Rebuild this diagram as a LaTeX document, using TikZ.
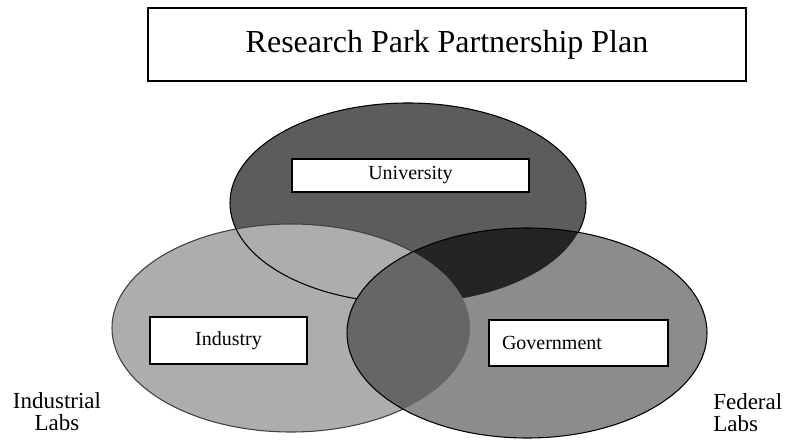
\documentclass[tikz,border=0pt]{standalone}
\usepackage{fontspec}
\setmainfont{Liberation Serif}
\usepackage{tikz}
\usetikzlibrary{positioning}
\definecolor{univgray}{gray}{0.36}
\definecolor{indgray}{gray}{0.68}
\definecolor{govgray}{gray}{0.55}
\definecolor{ugdark}{gray}{0.14}
\definecolor{iglens}{gray}{0.40}

\begin{document}
\begin{tikzpicture}[
    x=0.75pt, y=-0.75pt,
    tag/.style={draw, fill=white, line width=1.2pt, inner sep=0pt, font=\fontsize{15}{18}\selectfont},
    side/.style={inner sep=0pt, font=\fontsize{17.25}{16.5}\selectfont},
    rim/.style={draw=black, line width=0.8pt},
]
\useasboundingbox (0,0) rectangle (788,441);

% Title
\node[draw, line width=1.2pt, minimum width=448.5pt, minimum height=54.75pt, font=\fontsize{24}{28}\selectfont] (title) at (447,44.5) {Research Park Partnership Plan};

% University circle
\fill[univgray] (408,203) ellipse [x radius=133.5pt, y radius=75pt];

% Industry circle
\fill[indgray] (291,328) ellipse [x radius=134.25pt, y radius=78pt];
\draw[rim, draw=black!75] (291,328) ellipse [x radius=134.25pt, y radius=78pt];
\draw[rim] (408,203) ellipse [x radius=133.5pt, y radius=75pt];

% Government circle and its overlaps
\fill[govgray] (527,333) ellipse [x radius=135pt, y radius=78.75pt];
\begin{scope}
    \clip (408,203) ellipse [x radius=133.5pt, y radius=75pt];
    \fill[ugdark] (527,333) ellipse [x radius=135pt, y radius=78.75pt];
\end{scope}
\begin{scope}
    \clip (291,328) ellipse [x radius=134.25pt, y radius=78pt];
    \fill[iglens] (527,333) ellipse [x radius=135pt, y radius=78.75pt];
\end{scope}
\draw[rim] (527,333) ellipse [x radius=135pt, y radius=78.75pt];

% Labels
\node[tag, minimum width=177.75pt, minimum height=24.75pt] (univ) at (410.5,175.5) {University};
\node[tag, minimum width=117.75pt, minimum height=35.25pt] (ind) at (228.5,340.5) {Industry};
\node[tag, minimum height=34.5pt, text width=114.75pt, inner xsep=9.75pt, align=left] (gov) at (578.5,343) {Government};

% Outside labels
\node[side, align=center, anchor=base] (indlabs) at (57,430) {Industrial\\Labs};
\node[side, align=left, anchor=base west] (fedlabs) at (713,431) {Federal\\Labs};

\end{tikzpicture}
\end{document}
